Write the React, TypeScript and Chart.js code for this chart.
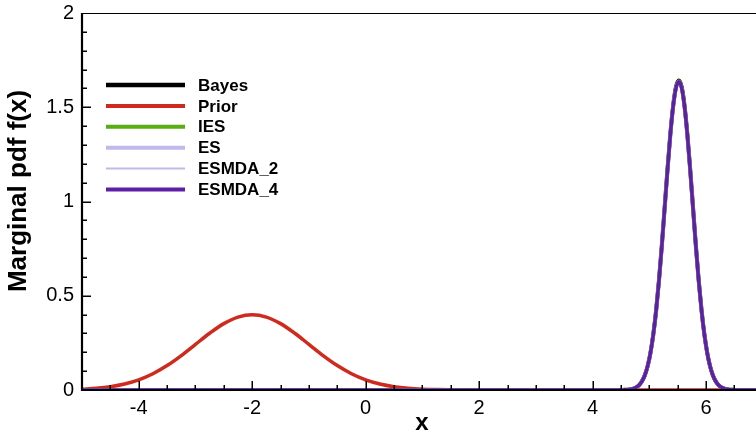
import React, { useEffect, useRef } from "react";
import { Chart, registerables } from "chart.js";

Chart.register(...registerables);

// Prior density on its own grid
const priorX = [
  -5, -4.75, -4.5, -4.25, -4, -3.75, -3.5, -3.25, -3, -2.75, -2.5, -2.25, -2,
  -1.75, -1.5, -1.25, -1, -0.75, -0.5, -0.25, 0, 0.25, 0.5, 0.75, 1, 1.25, 1.5,
  1.75, 2, 3, 4, 5, 6, 6.9,
];
const priorPdf = [
  0.0044, 0.0091, 0.0175, 0.0317, 0.054, 0.0863, 0.1295, 0.1826, 0.242, 0.3011,
  0.3521, 0.3867, 0.3989, 0.3867, 0.3521, 0.3011, 0.242, 0.1826, 0.1295, 0.0863,
  0.054, 0.0317, 0.0175, 0.0091, 0.0044, 0.002, 0.0009, 0.0004, 0.0001, 0, 0, 0,
  0, 0,
];

// Posterior densities share this grid
const postX = [
  -5, 4.52, 4.57, 4.62, 4.67, 4.72, 4.77, 4.82, 4.87, 4.92, 4.97, 5.02, 5.07,
  5.12, 5.17, 5.22, 5.27, 5.32, 5.37, 5.42, 5.47, 5.52, 5.57, 5.62, 5.67, 5.72,
  5.77, 5.82, 5.87, 5.92, 5.97, 6.02, 6.07, 6.12, 6.17, 6.22, 6.27, 6.32, 6.37,
  6.42, 6.47, 6.52, 6.9,
];
const bayesPdf = [
  0, 0.0003, 0.0008, 0.0017, 0.0036, 0.0073, 0.014, 0.0259, 0.0459, 0.0779,
  0.1267, 0.1977, 0.2955, 0.4235, 0.5819, 0.7662, 0.9671, 1.17, 1.3569, 1.5084,
  1.6073, 1.6417, 1.6073, 1.5084, 1.3569, 1.17, 0.9671, 0.7662, 0.5819, 0.4235,
  0.2955, 0.1977, 0.1267, 0.0779, 0.0459, 0.0259, 0.014, 0.0073, 0.0036, 0.0017,
  0.0008, 0.0003, 0,
];
const iesPdf = [
  0, 0.0003, 0.0008, 0.0018, 0.0037, 0.0074, 0.0142, 0.0261, 0.0461, 0.078,
  0.1267, 0.1975, 0.295, 0.4226, 0.5808, 0.765, 0.9657, 1.1684, 1.3551, 1.5062,
  1.6048, 1.6388, 1.6046, 1.5058, 1.3546, 1.168, 0.9654, 0.7649, 0.5809, 0.4228,
  0.2951, 0.1976, 0.1268, 0.078, 0.046, 0.026, 0.0141, 0.0073, 0.0036, 0.0017,
  0.0008, 0.0003, 0,
];
const esPdf = [
  0, 0.0004, 0.0009, 0.0019, 0.0038, 0.0076, 0.0144, 0.0264, 0.0464, 0.0783,
  0.1268, 0.1972, 0.2942, 0.4213, 0.5791, 0.763, 0.9636, 1.1662, 1.3526, 1.5034,
  1.6015, 1.635, 1.6012, 1.5029, 1.3522, 1.1659, 0.9635, 0.763, 0.5792, 0.4215,
  0.2944, 0.1973, 0.1269, 0.0784, 0.0464, 0.0263, 0.0143, 0.0075, 0.0037, 0.0018,
  0.0008, 0.0003, 0,
];
const esmda2Pdf = [
  0, 0.0003, 0.0008, 0.0018, 0.0037, 0.0075, 0.0143, 0.0262, 0.0462, 0.0781,
  0.1267, 0.1974, 0.2947, 0.422, 0.58, 0.7641, 0.9647, 1.1673, 1.3539, 1.5048,
  1.6031, 1.6368, 1.6029, 1.5044, 1.3535, 1.1669, 0.9645, 0.7641, 0.5801, 0.4222,
  0.2948, 0.1975, 0.1268, 0.0782, 0.0462, 0.0261, 0.0142, 0.0074, 0.0036, 0.0017,
  0.0008, 0.0003, 0,
];
const esmda4Pdf = [
  0, 0.0003, 0.0008, 0.0018, 0.0037, 0.0075, 0.0143, 0.0262, 0.0462, 0.0781,
  0.1266, 0.1972, 0.2944, 0.4218, 0.5796, 0.7636, 0.9643, 1.1668, 1.3532, 1.504,
  1.602, 1.6355, 1.602, 1.504, 1.3532, 1.1668, 0.9643, 0.7636, 0.5796, 0.4218,
  0.2944, 0.1972, 0.1266, 0.0781, 0.0462, 0.0262, 0.0143, 0.0075, 0.0037, 0.0018,
  0.0008, 0.0003, 0,
];

const xTicks = [-4, -2, 0, 2, 4, 6];
const yTicks = [0, 0.5, 1, 1.5, 2];

const X_MIN = -5;
const X_MAX = 6.88;
const Y_MIN = 0;
const Y_MAX = 2;

const FONT = "'Liberation Sans', Arial, Helvetica, sans-serif";

const pts = (xs: number[], ys: number[]) => xs.map((x, i) => ({ x, y: ys[i] }));

type SeriesStyle = { label: string; color: string; width: number; xs: number[]; ys: number[] };

const series: SeriesStyle[] = [
  { label: "Bayes", color: "#000000", width: 4, xs: postX, ys: bayesPdf },
  { label: "Prior", color: "#cf2a1e", width: 3.5, xs: priorX, ys: priorPdf },
  { label: "IES", color: "#58ad12", width: 3.5, xs: postX, ys: iesPdf },
  { label: "ES", color: "#c2b9ea", width: 3.5, xs: postX, ys: esPdf },
  { label: "ESMDA_2", color: "#c2b9ea", width: 1.2, xs: postX, ys: esmda2Pdf },
  { label: "ESMDA_4", color: "#5c1fa6", width: 3.5, xs: postX, ys: esmda4Pdf },
];

// Axes frame with inward ticks, legend and axis titles
const framePlugin = {
  id: "frame",
  afterDatasetsDraw(chart: any) {
    const { ctx, chartArea: a, scales } = chart;
    const xs = scales.x;
    const ys = scales.y;
    ctx.save();
    ctx.strokeStyle = "#000";
    ctx.lineCap = "butt";

    // top border
    ctx.lineWidth = 1;
    ctx.beginPath();
    ctx.moveTo(a.left, a.top + 0.5);
    ctx.lineTo(a.right, a.top + 0.5);
    ctx.stroke();

    // left and bottom axes
    ctx.lineWidth = 2.2;
    ctx.beginPath();
    ctx.moveTo(a.left, a.top);
    ctx.lineTo(a.left, a.bottom + 1);
    ctx.moveTo(a.left - 1, a.bottom);
    ctx.lineTo(a.right, a.bottom);
    ctx.stroke();

    // x ticks
    ctx.lineWidth = 1.5;
    ctx.beginPath();
    for (let i = 0; X_MIN + i * 0.5 <= X_MAX; i++) {
      const v = X_MIN + i * 0.5;
      const px = Math.round(xs.getPixelForValue(v)) + 0.25;
      const major = xTicks.includes(v);
      if (px <= a.left + 1) continue;
      ctx.moveTo(px, a.bottom);
      ctx.lineTo(px, a.bottom - (major ? 9 : 5));
    }
    // y ticks
    for (let i = 1; i < 20; i++) {
      const v = i * 0.1;
      const py = Math.round(ys.getPixelForValue(v)) + 0.25;
      const major = i % 5 === 0;
      ctx.moveTo(a.left, py);
      ctx.lineTo(a.left + (major ? 9 : 5), py);
    }
    ctx.stroke();
    ctx.restore();
  },
  afterDraw(chart: any) {
    const { ctx, chartArea: a } = chart;
    ctx.save();

    // legend
    const lx0 = 106;
    const lx1 = 185;
    const ly0 = 85;
    const step = 20.9;
    ctx.font = `bold 17px ${FONT}`;
    ctx.textBaseline = "middle";
    ctx.textAlign = "left";
    chart.data.datasets.forEach((ds: any, i: number) => {
      const yy = ly0 + i * step;
      ctx.strokeStyle = ds.borderColor;
      ctx.lineWidth = Math.max(ds.borderWidth, 1.5) + 0.5;
      ctx.beginPath();
      ctx.moveTo(lx0, yy);
      ctx.lineTo(lx1, yy);
      ctx.stroke();
      ctx.fillStyle = "#000";
      ctx.fillText(ds.label, 198, yy + 1);
    });

    // axis titles
    ctx.fillStyle = "#000";
    ctx.font = `bold 24px ${FONT}`;
    ctx.textAlign = "center";
    ctx.textBaseline = "alphabetic";
    ctx.fillText("x", (a.left + a.right) / 2 + 3, 430);

    ctx.save();
    ctx.translate(26, 191);
    ctx.rotate(-Math.PI / 2);
    ctx.font = `bold 26px ${FONT}`;
    ctx.fillText("Marginal pdf f(x)", 0, 0);
    ctx.restore();

    ctx.restore();
  },
};

export default function App() {
  const canvasRef = useRef<HTMLCanvasElement | null>(null);

  useEffect(() => {
    const canvas = canvasRef.current;
    if (!canvas) return;
    const orderOnTop = [5, 4, 3, 2, 1, 0];
    const chart = new Chart(canvas, {
      type: "scatter",
      data: {
        datasets: series.map((s, i) => ({
          label: s.label,
          data: pts(s.xs, s.ys),
          borderColor: s.color,
          backgroundColor: s.color,
          borderWidth: s.width,
          showLine: true,
          pointRadius: 0,
          pointHoverRadius: 0,
          cubicInterpolationMode: "monotone" as const,
          fill: false,
          order: orderOnTop[i],
        })),
      },
      options: {
        animation: false,
        responsive: false,
        maintainAspectRatio: false,
        events: [],
        layout: { padding: { top: 13, right: 0, left: 0, bottom: 0 } },
        plugins: {
          legend: { display: false },
          tooltip: { enabled: false },
          title: { display: false },
        },
        scales: {
          x: {
            type: "linear",
            min: X_MIN,
            max: X_MAX,
            grid: { display: false, drawTicks: false },
            border: { display: false },
            ticks: {
              color: "#000",
              font: { family: FONT, size: 20 },
              padding: 6,
              maxRotation: 0,
              autoSkip: false,
              callback: (v: any) => String(v),
            },
            afterBuildTicks: (scale: any) => {
              scale.ticks = xTicks.map((v) => ({ value: v }));
            },
            afterFit: (scale: any) => {
              scale.height = 45;
              scale.paddingLeft = 0;
              scale.paddingRight = 0;
            },
          },
          y: {
            type: "linear",
            min: Y_MIN,
            max: Y_MAX,
            grid: { display: false, drawTicks: false },
            border: { display: false },
            ticks: {
              color: "#000",
              font: { family: FONT, size: 20 },
              padding: 8,
              autoSkip: false,
              callback: (v: any) => String(v),
            },
            afterBuildTicks: (scale: any) => {
              scale.ticks = yTicks.map((v) => ({ value: v }));
            },
            afterFit: (scale: any) => {
              scale.width = 82;
              scale.paddingTop = 0;
              scale.paddingBottom = 0;
            },
          },
        },
      },
      plugins: [framePlugin],
    });
    return () => chart.destroy();
  }, []);

  return (
    <div style={{ position: "fixed", left: 0, top: 0, width: 756, height: 435, background: "#fff" }}>
      <canvas ref={canvasRef} width={756} height={435} />
    </div>
  );
}
